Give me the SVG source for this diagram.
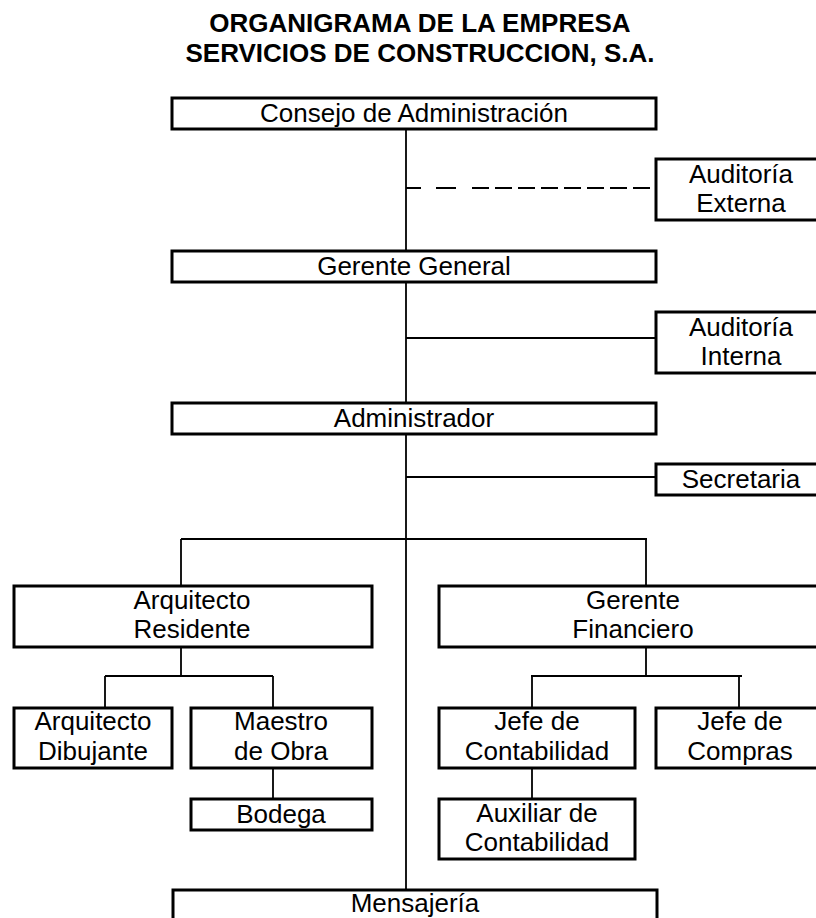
<svg xmlns="http://www.w3.org/2000/svg" width="816" height="918" viewBox="0 0 816 918">
<style>
  .box { fill: #fff; stroke: #000; stroke-width: 3; }
  .t { font-family: "Liberation Sans", Arial, sans-serif; font-size: 26px; fill: #000; text-anchor: middle; }
  .title { font-family: "Liberation Sans", Arial, sans-serif; font-size: 26px; font-weight: bold; fill: #000; text-anchor: middle; }
  .ln { fill: none; stroke: #000; stroke-width: 1.8; }
  .dash { fill: none; stroke: #000; stroke-width: 1.8; stroke-dasharray: 17 6; }
</style>
<rect x="0" y="0" width="816" height="918" fill="#fff"/>
<g id="title">
  <text class="title" x="420" y="32">ORGANIGRAMA DE LA EMPRESA</text>
  <text class="title" x="420" y="62">SERVICIOS DE CONSTRUCCION, S.A.</text>
</g>
<g id="connectors">
  <path class="ln" d="M406 129 V889"/>
  <path class="ln" d="M406 188 H421 M436 188 H456"/>
  <path class="dash" d="M472 188 H655"/>
  <path class="ln" d="M406 338 H655"/>
  <path class="ln" d="M406 477 H655"/>
  <path class="ln" d="M181 539 H647 M181 539 V585 M646 539 V585"/>
  <path class="ln" d="M181 647 V676 M105 676 H273 M105 676 V707 M273 676 V707"/>
  <path class="ln" d="M273 768 V798"/>
  <path class="ln" d="M646 647 V676 M531 676 H742 M532 676 V707 M739 676 V707"/>
  <path class="ln" d="M532 768 V798"/>
</g>
<g id="consejo">
  <rect class="box" x="172" y="98" width="484" height="31"/>
  <text class="t" x="414" y="122">Consejo de Administración</text>
</g>
<g id="auditoria-externa">
  <rect class="box" x="656" y="159" width="175" height="61"/>
  <text class="t" x="741" y="183">Auditoría</text>
  <text class="t" x="741" y="212">Externa</text>
</g>
<g id="gerente-general">
  <rect class="box" x="172" y="251" width="484" height="31"/>
  <text class="t" x="414" y="275">Gerente General</text>
</g>
<g id="auditoria-interna">
  <rect class="box" x="656" y="312" width="175" height="61"/>
  <text class="t" x="741" y="336">Auditoría</text>
  <text class="t" x="741" y="365">Interna</text>
</g>
<g id="administrador">
  <rect class="box" x="172" y="403" width="484" height="31"/>
  <text class="t" x="414" y="427">Administrador</text>
</g>
<g id="secretaria">
  <rect class="box" x="656" y="464" width="175" height="31"/>
  <text class="t" x="741" y="488">Secretaria</text>
</g>
<g id="arquitecto-residente">
  <rect class="box" x="14" y="586" width="358" height="61"/>
  <text class="t" x="192" y="609">Arquitecto</text>
  <text class="t" x="192" y="638">Residente</text>
</g>
<g id="gerente-financiero">
  <rect class="box" x="439" y="586" width="392" height="61"/>
  <text class="t" x="633" y="609">Gerente</text>
  <text class="t" x="633" y="638">Financiero</text>
</g>
<g id="arquitecto-dibujante">
  <rect class="box" x="14" y="708" width="158" height="60"/>
  <text class="t" x="93" y="730">Arquitecto</text>
  <text class="t" x="93" y="760">Dibujante</text>
</g>
<g id="maestro-de-obra">
  <rect class="box" x="191" y="708" width="181" height="60"/>
  <text class="t" x="281" y="730">Maestro</text>
  <text class="t" x="281" y="760">de Obra</text>
</g>
<g id="jefe-contabilidad">
  <rect class="box" x="439" y="708" width="196" height="60"/>
  <text class="t" x="537" y="730">Jefe de</text>
  <text class="t" x="537" y="760">Contabilidad</text>
</g>
<g id="jefe-compras">
  <rect class="box" x="656" y="708" width="175" height="60"/>
  <text class="t" x="740" y="730">Jefe de</text>
  <text class="t" x="740" y="760">Compras</text>
</g>
<g id="bodega">
  <rect class="box" x="191" y="799" width="181" height="31"/>
  <text class="t" x="281" y="823">Bodega</text>
</g>
<g id="auxiliar-contabilidad">
  <rect class="box" x="439" y="799" width="196" height="60"/>
  <text class="t" x="537" y="822">Auxiliar de</text>
  <text class="t" x="537" y="851">Contabilidad</text>
</g>
<g id="mensajeria">
  <rect class="box" x="173" y="890" width="484" height="40"/>
  <text class="t" x="415" y="912">Mensajería</text>
</g>
</svg>
